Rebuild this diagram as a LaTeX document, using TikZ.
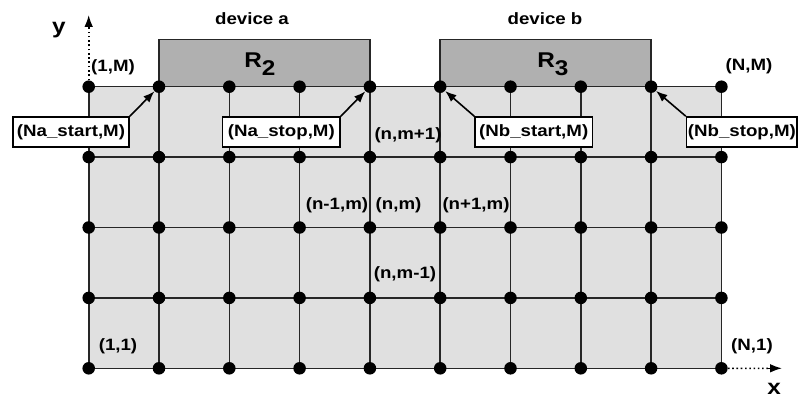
\documentclass[tikz,border=0pt]{standalone}
\usepackage{fontspec}
\setmainfont{Liberation Sans}[FakeStretch=1.14]
\usetikzlibrary{arrows.meta}
\begin{document}
\begin{tikzpicture}[x=0.75pt,y=-0.75pt,
  gridline/.style={draw=black!85, line width=1.2pt},
  devbox/.style={draw=black!85, line width=1.2pt, fill=black!31},
  dot/.style={circle, fill=black, inner sep=0pt, minimum size=9.4pt},
  lbl/.style={font=\bfseries\fontsize{12.3}{14}\selectfont, inner sep=0pt},
  biglbl/.style={font=\bfseries\fontsize{16}{18}\selectfont, inner sep=0pt},
  rlbl/.style={font=\bfseries\fontsize{16}{17}\selectfont, inner sep=0pt, anchor=base west},
  callout/.style={draw=black, line width=1.2pt, fill=white, inner sep=0pt,
    minimum height=22.5pt, font=\bfseries\fontsize{12.3}{14}\selectfont},
  pointer/.style={-{Latex[length=8.5pt,width=6.5pt]}, line width=1.2pt},
  axisline/.style={dotted, line width=1.2pt},
  axishead/.style={solid, line width=1.2pt, -{Latex[length=9pt,width=6.5pt]}}]
\useasboundingbox (0,0) rectangle (798,399);
% grid points
\foreach \i in {0,...,9}
  \foreach \j in {0,...,4}
    \coordinate (p-\i-\j) at ({88.7+70.3*\i},{86.7+70.4*\j});
% substrate
\fill[black!12] (p-0-0) rectangle (p-9-4);
% devices
\draw[devbox] (p-1-0) -- ++(0,-47) -| (p-4-0);
\draw[devbox] (p-5-0) -- ++(0,-47) -| (p-8-0);
% grid lines
\foreach \j in {0,...,4} \draw[gridline] (p-0-\j) -- (p-9-\j);
\foreach \i in {0,...,9} \draw[gridline] (p-\i-0) -- (p-\i-4);
% dots
\foreach \i in {0,...,9}
  \foreach \j in {0,...,4}
    \node[dot] (d-\i-\j) at (p-\i-\j) {};
% axes
\coordinate (ybase) at (88.7,29);
\coordinate (ytip) at (88.7,15);
\coordinate (xbase) at (768,368.3);
\coordinate (xtip) at (782,368.3);
\draw[axisline] (d-0-0) -- (ybase);
\draw[axishead] (ybase) -- (ytip);
\draw[axisline] (d-9-4) -- (xbase);
\draw[axishead] (xbase) -- (xtip);
\node[biglbl] (ylab) at (59,30) {y};
\node[biglbl] (xlab) at (774,389) {x};
% device labels
\node[lbl] (deva) at (252,19) {device a};
\node[lbl] (devb) at (545,19) {device b};
\node[rlbl] (r2) at (244,67.3) {R\raisebox{-6.5pt}{2}};
\node[rlbl] (r3) at (537,67.3) {R\raisebox{-6.5pt}{3}};
% corner labels
\node[lbl] (c1M) at (113,67) {(1,M)};
\node[lbl] (cNM) at (749,66) {(N,M)};
\node[lbl] (c11) at (118,346) {(1,1)};
\node[lbl] (cN1) at (752,346) {(N,1)};
% stencil labels
\node[lbl] (nmp) at (408,135) {(n,m+1)};
\node[lbl] (nlm) at (337,205) {(n-1,m)};
\node[lbl] (nm) at (398.5,205) {(n,m)};
\node[lbl] (nrm) at (476,205) {(n+1,m)};
\node[lbl] (nmm) at (405,274) {(n,m-1)};
% callouts
\node[callout, minimum width=87pt] (ca) at (71,132) {(Na\_start,M)};
\node[callout, minimum width=88pt] (cb) at (281.3,132) {(Na\_stop,M)};
\node[callout, minimum width=88pt] (cc) at (533.7,132) {(Nb\_start,M)};
\node[callout, minimum width=83pt] (cd) at (741.9,132) {(Nb\_stop,M)};
\draw[pointer] (ca.north east) -- (d-1-0);
\draw[pointer] (cb.north east) -- (d-4-0);
\draw[pointer] (cc.north west) -- (d-5-0);
\draw[pointer] (cd.north west) -- (d-8-0);
\end{tikzpicture}
\end{document}
